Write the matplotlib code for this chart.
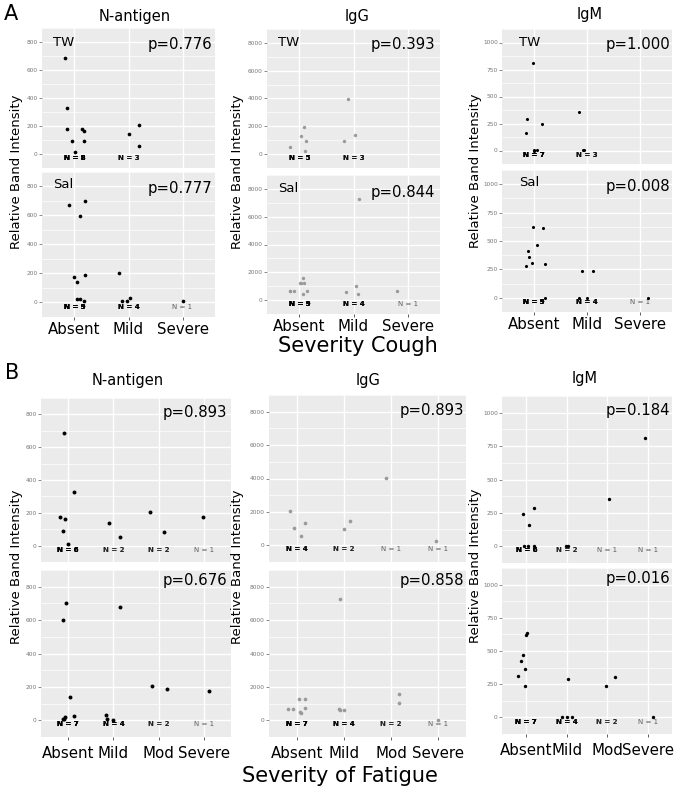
import matplotlib.pyplot as plt

W, H = 683, 793

cough_cats = ["Absent", "Mild", "Severe"]
fatigue_cats = ["Absent", "Mild", "Mod", "Severe"]

# values per category (jitter = horizontal offset of each dot)
cough_nag_tw = [[686, 331, 177, 177, 165, 92, 92, 15], [140, 206, 54], []]
cough_nag_tw_jit = [[-0.17, -0.14, -0.14, 0.14, 0.17, -0.05, 0.17, 0.01], [0.0, 0.19, 0.19], []]
cough_nag_sal = [[675, 700, 596, 179, 140, 188, 23, 23, 10], [202, 31, 8, 12], [8]]
cough_nag_sal_jit = [[-0.1, 0.19, 0.11, -0.01, 0.04, 0.2, 0.04, 0.1, 0.17], [-0.17, 0.02, -0.03, -0.12], [0.0]]

cough_igg_tw = [[518, 1969, 1285, 974, 249], [3950, 1388, 912], []]
cough_igg_tw_jit = [[-0.18, 0.08, 0.02, 0.12, 0.11], [-0.11, 0.03, -0.17], []]
cough_igg_sal = [[667, 667, 1570, 1226, 1226, 667, 430, 1226, 667], [7247, 559, 1032, 473], [624]]
cough_igg_sal_jit = [[-0.18, -0.1, 0.06, 0.01, 0.09, 0.14, 0.07, 0.02, -0.17], [0.1, -0.13, 0.04, 0.08], [-0.2]]

cough_igm_tw = [[813, 291, 158, 246, 5, 5, 0], [353, 5, 5], []]
cough_igm_tw_jit = [[-0.01, -0.13, -0.14, 0.15, 0.0, 0.06, 0.01], [-0.15, -0.08, -0.05], []]
cough_igm_sal = [[622, 614, 461, 410, 356, 308, 281, 300, 0], [233, 233, 0, 0], [0]]
cough_igm_sal_jit = [[-0.01, 0.18, 0.05, -0.11, -0.09, -0.03, -0.14, 0.2, 0.2], [-0.1, 0.12, -0.16, 0.0], [0.14]]

fat_nag_tw = [[684, 329, 176, 161, 89, 7], [136, 52], [203, 83], [172]]
fat_nag_tw_jit = [[-0.1, 0.14, -0.19, -0.07, -0.11, 0.0], [-0.1, 0.15], [-0.2, 0.11], [-0.03]]
fat_nag_sal = [[703, 598, 140, 23, 18, 10, 6], [679, 34, 9, 0], [204, 189], [178]]
fat_nag_sal_jit = [[-0.04, -0.11, 0.04, 0.14, -0.07, -0.11, -0.09], [0.14, -0.16, -0.15, 0.0], [-0.14, 0.18], [0.11]]

fat_igg_tw = [[2031, 1024, 1325, 565], [954, 1430], [4026], [265]]
fat_igg_tw_jit = [[-0.15, -0.07, 0.16, 0.09], [0.0, 0.12], [-0.11], [-0.03]]
fat_igg_sal = [[674, 674, 1260, 1260, 710, 497, 444], [7276, 674, 639, 603], [1562, 1047], [35]]
fat_igg_sal_jit = [[-0.2, -0.08, 0.05, 0.17, 0.16, 0.07, 0.09], [-0.08, -0.11, -0.01, -0.09], [0.17, 0.17], [0.0]]

fat_igm_tw = [[244, 160, 290, 5, 5, 5], [5, 5], [352], [813]]
fat_igm_tw_jit = [[-0.07, 0.06, 0.2, -0.05, 0.03, 0.2], [-0.02, 0.02], [0.05], [-0.07]]
fat_igm_sal = [[632, 620, 470, 421, 366, 312, 236], [289, 2, 2, 0], [236, 305], [2]]
fat_igm_sal_jit = [[0.02, 0.0, -0.09, -0.13, -0.02, -0.2, -0.02], [0.04, -0.11, 0.12, 0.0], [-0.04, 0.19], [0.12]]

p_vals = {
    "A_nag": ["p=0.776", "p=0.777"], "A_igg": ["p=0.393", "p=0.844"], "A_igm": ["p=1.000", "p=0.008"],
    "B_nag": ["p=0.893", "p=0.676"], "B_igg": ["p=0.893", "p=0.858"], "B_igm": ["p=0.184", "p=0.016"],
}

fig = plt.figure(figsize=(W / 100, H / 100), dpi=100)


def fx(px):
    return px / W


def fy(py):
    return 1 - py / H


def panel(box, ylim, yticks, cats, bottom, xpad):
    x0, x1, y0, y1 = box
    ax = fig.add_axes([fx(x0), fy(y1), (x1 - x0) / W, (y1 - y0) / H])
    ax.set_facecolor('#EBEBEB')
    ax.set_xlim(0.4, len(cats) + 0.6)
    ax.set_ylim(*ylim)
    ax.set_xticks(range(1, len(cats) + 1))
    ax.set_yticks(yticks)
    step = yticks[1] - yticks[0]
    ax.set_yticks([t + step / 2 for t in [yticks[0] - step] + yticks], minor=True)
    ax.grid(which='major', color='white', lw=1.0)
    ax.grid(which='minor', axis='y', color='white', lw=0.5)
    ax.set_axisbelow(True)
    for s in ax.spines.values():
        s.set_visible(False)
    ax.tick_params(axis='y', which='major', labelsize=4.2, labelcolor='#777777',
                   color='#777777', length=2, width=0.6, pad=1)
    ax.tick_params(axis='y', which='minor', length=0)
    if bottom:
        ax.set_xticklabels(cats)
        ax.tick_params(axis='x', labelsize=10.8, color='#444444', length=2, width=0.6, pad=xpad)
    else:
        ax.tick_params(axis='x', length=0, labelbottom=False)
    return ax


def draw(ax, vals, jit, color, size):
    for i, (vs, js) in enumerate(zip(vals, jit)):
        xs = [i + 1 + j for j in js]
        ax.scatter(xs, vs, s=size, color=color, linewidths=0, zorder=3)
        n = len(vs)
        if n:
            # ggplot draws the count label once per point, so larger groups look darker
            for _ in range(n):
                ax.annotate(f"N = {n}", (i + 1, 0), xytext=(0, -3), textcoords='offset points',
                            ha='center', va='center', fontsize=5, color='black', alpha=0.6,
                            fontweight='bold' if n > 1 else 'normal', zorder=4)


panels = [
    # (top box, bottom box, ylim, yticks, cats, data top, jit top, data bottom, jit bottom, color, size, key, tag x, pright)
    ((42, 215, 28, 168), (42, 215, 172, 317), (-60, 840), [0, 200, 400, 600, 800], cough_cats,
     cough_nag_tw, cough_nag_tw_jit, cough_nag_sal, cough_nag_sal_jit, 'black', 7, "A_nag", 53, 212),
    ((267, 440, 29, 168), (267, 440, 175, 314), (-550, 8250), [0, 2000, 4000, 6000, 8000], cough_cats,
     cough_igg_tw, cough_igg_tw_jit, cough_igg_sal, cough_igg_sal_jit, '#9a9a9a', 6, "A_igg", 278, 435),
    ((502, 672, 29, 164), (502, 672, 170, 312), (-85, 1030), [0, 250, 500, 750, 1000], cough_cats,
     cough_igm_tw, cough_igm_tw_jit, cough_igm_sal, cough_igm_sal_jit, 'black', 5, "A_igm", 519, 670),
    ((41, 231, 398, 562), (41, 231, 570, 737), (-50, 850), [0, 200, 400, 600, 800], fatigue_cats,
     fat_nag_tw, fat_nag_tw_jit, fat_nag_sal, fat_nag_sal_jit, 'black', 8, "B_nag", None, 227),
    ((269, 466, 395, 562), (269, 466, 570, 737), (-630, 8210), [0, 2000, 4000, 6000, 8000], fatigue_cats,
     fat_igg_tw, fat_igg_tw_jit, fat_igg_sal, fat_igg_sal_jit, '#9a9a9a', 7, "B_igg", None, 464),
    ((502, 672, 396, 563), (502, 672, 568, 734), (-85, 1058), [0, 250, 500, 750, 1000], fatigue_cats,
     fat_igm_tw, fat_igm_tw_jit, fat_igm_sal, fat_igm_sal_jit, 'black', 6, "B_igm", None, 670),
]

for (btop, bbot, ylim, yt, cats, dt, jt, db, jb, col, sz, key, tagx, pr) in panels:
    xpad = 1.5 if key.startswith("A") else 4.5
    ax1 = panel(btop, ylim, yt, cats, False, xpad)
    ax2 = panel(bbot, ylim, yt, cats, True, xpad)
    draw(ax1, dt, jt, col, sz)
    draw(ax2, db, jb, col, sz)
    p1, p2 = p_vals[key]
    off = 16 if key.startswith("A") else 15
    fig.text(fx(pr), fy(btop[2] + off), p1, ha='right', va='center', fontsize=10.7)
    fig.text(fx(pr), fy(bbot[2] + off + (1 if key.startswith("A") else -4)), p2,
             ha='right', va='center', fontsize=10.7)
    if tagx is not None:
        fig.text(fx(tagx), fy(btop[2] + 14), "TW", ha='left', va='center', fontsize=9.5)
        fig.text(fx(tagx), fy(bbot[2] + 13), "Sal", ha='left', va='center', fontsize=9.5)

# column titles
for x, y, t in [(135, 16, "N-antigen"), (357, 16, "IgG"), (590, 15, "IgM"),
                (128, 381, "N-antigen"), (368, 380, "IgG"), (585, 378, "IgM")]:
    fig.text(fx(x), fy(y), t, ha='center', va='center', fontsize=10.5)

# y axis titles
for x, y in [(17, 172), (237, 172), (475, 171), (17, 567), (238, 567), (476, 566)]:
    fig.text(fx(x), fy(y), "Relative Band Intensity", ha='center', va='center',
             rotation=90, fontsize=9.5)

fig.text(fx(358), fy(346), "Severity Cough", ha='center', va='center', fontsize=15)
fig.text(fx(340), fy(776), "Severity of Fatigue", ha='center', va='center', fontsize=15)
fig.text(fx(11), fy(14), "A", ha='center', va='center', fontsize=15)
fig.text(fx(12), fy(373), "B", ha='center', va='center', fontsize=15)

fig.savefig("out.png", dpi=100)
